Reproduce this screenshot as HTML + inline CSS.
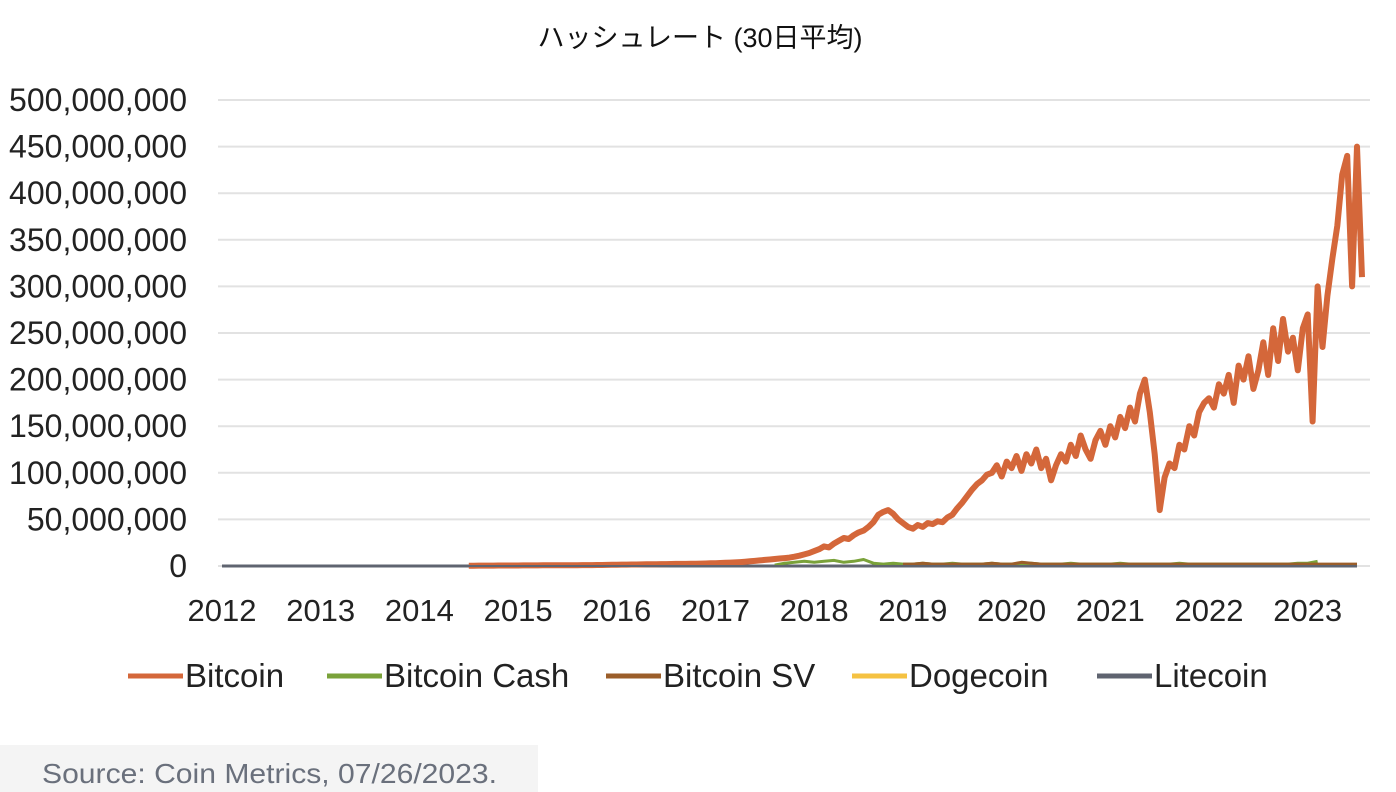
<!DOCTYPE html>
<html><head><meta charset="utf-8"><style>
body{margin:0;background:#fff;width:1396px;height:792px;overflow:hidden;font-family:"Liberation Sans","Noto Sans CJK JP",sans-serif}
</style></head><body>
<svg width="1396" height="792" style="display:block">
<text x="700" y="47" text-anchor="middle" font-size="27" fill="#111" font-family="Liberation Sans, Noto Sans CJK JP, sans-serif">ハッシュレート (30日平均)</text>
<g id="grid"></g><g id="ylab"></g><g id="xlab"></g><g id="series"></g><g id="legend"></g>
<rect x="0" y="745" width="538" height="47" fill="#f4f4f4"/>
<text x="42" y="783" font-size="28" fill="#6a707c" textLength="455" lengthAdjust="spacingAndGlyphs">Source: Coin Metrics, 07/26/2023.</text>
</svg>
<script>
const yTicks=[0,50e6,100e6,150e6,200e6,250e6,300e6,350e6,400e6,450e6,500e6];
const xYears=[2012,2013,2014,2015,2016,2017,2018,2019,2020,2021,2022,2023];
const btcStart=2014.5, btcStep=0.05;
const btcValues=[0.3,0.3,0.4,0.4,0.4,0.4,0.5,0.5,0.5,0.5,0.5,0.6,0.6,0.6,0.6,0.7,0.7,0.7,0.8,0.8,0.8,0.9,0.9,1,1,1,1.1,1.1,1.2,1.3,
1.4,1.5,1.5,1.6,1.6,1.7,1.8,1.8,1.9,2,2,2.1,2.2,2.2,2.3,2.4,2.5,2.6,2.7,2.9,
3,3.2,3.4,3.6,3.9,4.2,4.6,5,5.5,6,
6.5,7,7.5,8,8.5,9,10,11,12.5,14,
16,18,21,20,24,27,30,29,33,36,
38,42,47,55,58,60,56,50,46,42,
40,44,42,46,45,48,47,52,
55,62,68,75,82,88,92,98,
100,108,96,112,105,118,102,120,
110,125,105,115,92,108,
120,112,130,118,140,125,115,135,145,130,
150,138,160,148,170,155,185,200,
165,120,60,
95,110,105,130,125,150,140,165,175,
180,170,195,185,205,175,215,200,225,190,
210,240,205,255,220,265,230,245,210,255,
270,155,300,235,290,330,365,420,440,300,450,310];
const bchStart=2017.6, bchStep=0.1;
const bchValues=[1,3,4,5,4,5,6,4,5,7,3,2,3,2,2,3,2,2,3,2,2,2,3,2,2,2,3,2,2,2,3,2,2,2,2,3,2,2,2,2,2,3,2,2,2,2,2,2,2,2,2,2,2,3,3,5];
const bsvStart=2018.9, bsvStep=0.1;
const bsvValues=[2,2,3,2,2,2,2,2,2,3,2,2,4,3,2,2,2,2,2,2,2,2,2,2,2,2,2,2,2,2,2,2,2,2,2,2,2,2,2,2,2,2,2,2,2,2,2];
const dogeStart=2014.0, dogeStep=0.5;
const dogeValues=[0,0,0,0,0,0,0,0,0,0,0,0,0,0,0,0,0,0,0,0];
const ltcStart=2012.0, ltcStep=0.5;
const ltcValues=[0,0,0,0,0,0,0,0,0,0,0,0,0,0,0,0,0,0,0,0,0,0,0,0];
const seriesNames=["Bitcoin","Bitcoin Cash","Bitcoin SV","Dogecoin","Litecoin"];
const seriesColors=["#d4673a","#7aa23a","#9b5e2a","#f5c242","#5f6470"];

const X=t=>222+(t-2012)*98.7, Y=v=>566-v/500e6*466;
const NS="http://www.w3.org/2000/svg";
function mk(tag,parent,attrs){const e=document.createElementNS(NS,tag);for(const k in attrs)e.setAttribute(k,attrs[k]);parent.appendChild(e);return e;}
const grid=document.getElementById('grid'),ylab=document.getElementById('ylab'),xlab=document.getElementById('xlab'),ser=document.getElementById('series'),leg=document.getElementById('legend');
yTicks.forEach(v=>{
 const l=mk('line',grid,{x1:218,x2:1370,y1:Y(v),y2:Y(v),stroke:'#e2e2e2','stroke-width':2});
 
 
 const t=mk('text',ylab,{x:187,y:Y(v)+11,'text-anchor':'end','font-size':32,fill:'#222'});
 t.textContent=v.toLocaleString('en-US');
 
 
});
xYears.forEach(yr=>{
 const t=mk('text',xlab,{x:X(yr),y:621,'text-anchor':'middle','font-size':31,fill:'#222'});
 t.textContent=yr;
 
 
});
function draw(start,step,vals,color,w,name){
 const pts=vals.map((v,i)=>X(start+i*step).toFixed(1)+','+Y(v*1e6).toFixed(1)).join(' ');
 const p=mk('polyline',ser,{points:pts,fill:'none',stroke:color,'stroke-width':w,'stroke-linejoin':'round'});
 
 
}
draw(ltcStart,ltcStep,ltcValues,seriesColors[4],3,'litecoin-line');
draw(btcStart,btcStep,btcValues,seriesColors[0],6,'bitcoin-line');
draw(bchStart,bchStep,bchValues,seriesColors[1],3,'bitcoin-cash-line');
draw(bsvStart,bsvStep,bsvValues,seriesColors[2],3,'bitcoin-sv-line');
draw(dogeStart,dogeStep,dogeValues,seriesColors[3],2,'dogecoin-line');
draw(ltcStart,ltcStep,ltcValues,seriesColors[4],2,'litecoin-line-top');
const legX=[128,327,606,852,1097];
seriesNames.forEach((n,i)=>{
 const g=mk('g',leg,{});
 
 
 mk('line',g,{x1:legX[i],x2:legX[i]+55,y1:676,y2:676,stroke:seriesColors[i],'stroke-width':5});
 const t=mk('text',g,{x:legX[i]+57,y:687,'font-size':33,fill:'#222'});
 t.textContent=n;
});
</script>
</body></html>
